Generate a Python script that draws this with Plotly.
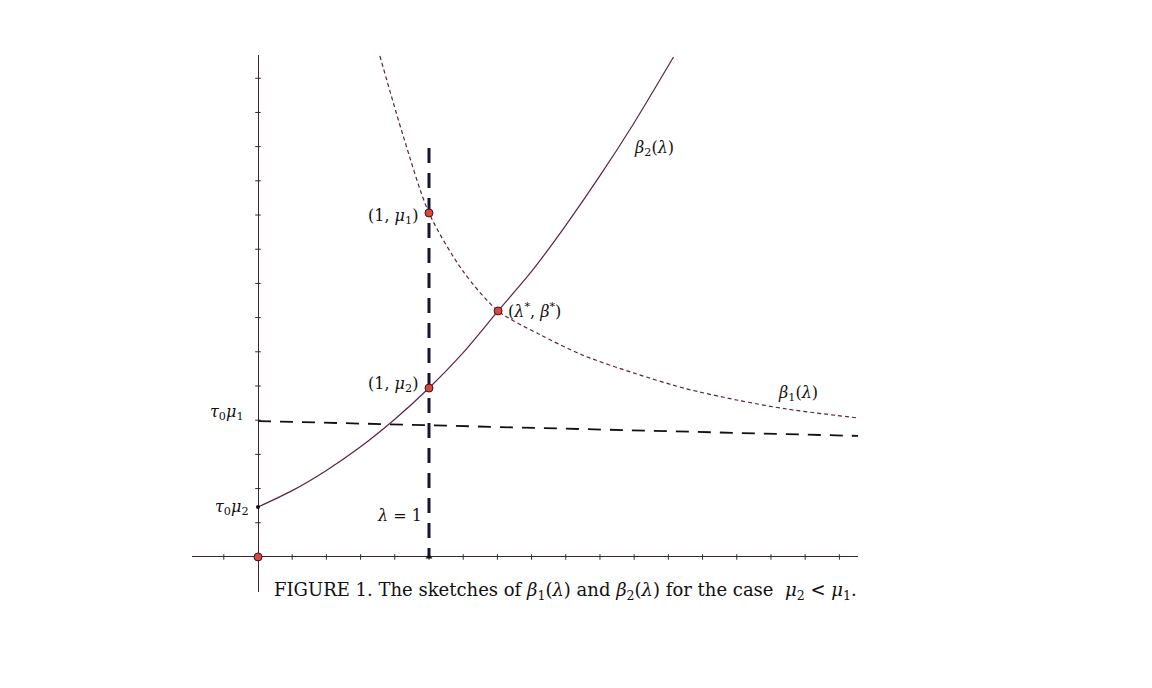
import plotly.graph_objects as go

# values (lambda units; 1 tick = 0.2)
lam_b2 = [0.0, 0.2, 0.4, 0.6, 0.8, 1.0, 1.2, 1.404, 1.6, 1.8, 2.0, 2.2, 2.43]
beta_2 = [0.292, 0.388, 0.506, 0.644, 0.805, 0.988, 1.195, 1.439, 1.67, 1.94, 2.23, 2.54, 2.924]

lam_b1 = [0.713, 0.85, 1.0, 1.2, 1.404, 1.65, 1.9, 2.2, 2.5, 2.8, 3.1, 3.509]
beta_1 = [2.93, 2.46, 2.012, 1.67, 1.439, 1.30, 1.18, 1.075, 0.985, 0.918, 0.864, 0.813]

lam_h = [0.0, 3.509]
tau0_mu1 = [0.795, 0.708]     # horizontal dashed line (scan is a bit skewed)
tau0_mu2 = 0.292
mu1 = 2.012
mu2 = 0.988
lam_star = 1.404
beta_star = 1.439
lam_one_top = 2.392

x_ticks = [-0.2, 0.2, 0.4, 0.6, 0.8, 1.0, 1.2, 1.4, 1.6, 1.8, 2.0, 2.2, 2.4, 2.6, 2.8, 3.0, 3.2, 3.4]
y_ticks = [0.2, 0.4, 0.6, 0.8, 1.0, 1.2, 1.4, 1.6, 1.8, 2.0, 2.2, 2.4, 2.6, 2.8]

axis_col = '#3a2530'
curve_col = '#5e2148'
serif = 'DejaVu Serif'

fig = go.Figure()

# tick marks sitting on the axes
fig.add_trace(go.Scatter(x=x_ticks, y=[0] * len(x_ticks), mode='markers',
                         marker=dict(symbol='line-ns', size=4, line=dict(width=1, color=axis_col))))
fig.add_trace(go.Scatter(x=[0] * len(y_ticks), y=y_ticks, mode='markers',
                         marker=dict(symbol='line-ew', size=4, line=dict(width=1, color=axis_col))))

# horizontal tau0*mu1 line
fig.add_trace(go.Scatter(x=lam_h, y=tau0_mu1, mode='lines',
                         line=dict(color='#111111', width=1.8, dash='13px,9px')))
# lambda = 1
fig.add_trace(go.Scatter(x=[1, 1], y=[lam_one_top, 0], mode='lines',
                         line=dict(color='#15162e', width=3, dash='15px,10px')))
# beta_1 dashed, beta_2 solid
fig.add_trace(go.Scatter(x=lam_b1, y=beta_1, mode='lines',
                         line=dict(color=curve_col, width=1.2, dash='4px,3px', shape='spline', smoothing=0.8)))
fig.add_trace(go.Scatter(x=lam_b2, y=beta_2, mode='lines',
                         line=dict(color=curve_col, width=1.2, shape='spline', smoothing=0.8)))

# points
fig.add_trace(go.Scatter(x=[0, 1, 1, lam_star], y=[0, mu1, mu2, beta_star], mode='markers',
                         marker=dict(size=8, color='#d9473f', line=dict(width=1, color='#4a1010'))))
fig.add_trace(go.Scatter(x=[0], y=[tau0_mu2], mode='markers',
                         marker=dict(size=4, color='#111111')))
fig.add_trace(go.Scatter(x=[1], y=[0], mode='markers',
                         marker=dict(symbol='triangle-up', size=6, color='#111111')))

lab = dict(showarrow=False, font=dict(family=serif, size=16, color='#111111'))
fig.add_annotation(x=1, y=mu1, text='(1, <i>μ</i><sub>1</sub>)', xanchor='right', xshift=-9, yshift=-4, **lab)
fig.add_annotation(x=1, y=mu2, text='(1, <i>μ</i><sub>2</sub>)', xanchor='right', xshift=-9, yshift=4, **lab)
fig.add_annotation(x=lam_star, y=beta_star, text='(<i>λ</i><sup>*</sup>, <i>β</i><sup>*</sup>)',
                   xanchor='left', xshift=8, **lab)
fig.add_annotation(x=2.316, y=2.392, text='<i>β</i><sub>2</sub>(<i>λ</i>)', **lab)
fig.add_annotation(x=3.158, y=0.959, text='<i>β</i><sub>1</sub>(<i>λ</i>)', **lab)
fig.add_annotation(x=0, y=tau0_mu1[0], text='<i>τ</i><sub>0</sub><i>μ</i><sub>1</sub>',
                   xanchor='right', xshift=-12, yshift=9, **lab)
fig.add_annotation(x=0, y=tau0_mu2, text='<i>τ</i><sub>0</sub><i>μ</i><sub>2</sub>',
                   xanchor='right', xshift=-7, **lab)
fig.add_annotation(x=1, y=0.24, text='<i>λ</i> = 1', xanchor='right', xshift=-5, **lab)
fig.add_annotation(x=0.082, y=-0.2, xanchor='left',
                   text='FIGURE 1. The sketches of <i>β</i><sub>1</sub>(<i>λ</i>) and <i>β</i><sub>2</sub>(<i>λ</i>)'
                        ' for the case  <i>μ</i><sub>2</sub> &lt; <i>μ</i><sub>1</sub>.',
                   showarrow=False, font=dict(family=serif, size=18, color='#111111'))

fig.update_xaxes(range=[-0.386, 3.509], showgrid=False, showticklabels=False, ticks='',
                 zeroline=True, zerolinecolor=axis_col, zerolinewidth=1, showline=False)
fig.update_yaxes(range=[-0.205, 2.936], showgrid=False, showticklabels=False, ticks='',
                 zeroline=True, zerolinecolor=axis_col, zerolinewidth=1, showline=False)

# page body adds an 8px offset, so margins are shifted to compensate
fig.update_layout(width=1152, height=688, showlegend=False,
                  plot_bgcolor='white', paper_bgcolor='white',
                  margin=dict(l=184, r=302, t=47, b=104))

fig.write_html("out.html")
